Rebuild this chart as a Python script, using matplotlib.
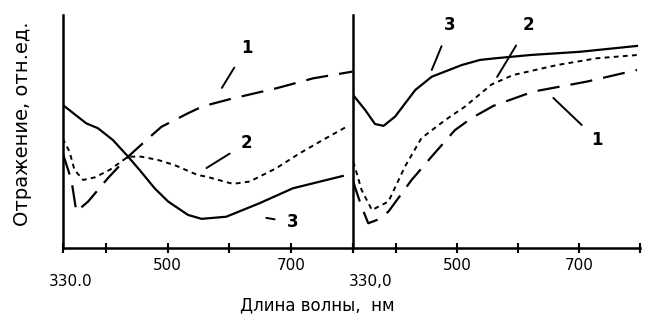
import matplotlib.pyplot as plt
import matplotlib.transforms as mtransforms

# длины волн (нм) и отражение (отн. ед.)
wl_left_1 = [330, 344, 352, 371, 403, 436, 466, 490, 533, 557, 606, 676, 736, 800]
r_left_1 = [40.6, 29.2, 15.6, 19.9, 29.9, 39.2, 46.4, 52, 57.8, 60.8, 64.2, 68.5, 72.8, 75.7]
wl_left_2 = [330, 341, 349, 363, 382, 406, 436, 457, 484, 511, 549, 563, 606, 633, 676, 714, 752, 790]
r_left_2 = [47, 41.3, 33.5, 29.2, 30.3, 33.5, 39.2, 39.2, 37.8, 35.6, 31.3, 30.6, 27.5, 28.5, 34.2, 40.6, 46.4, 52]
wl_left_3 = [330, 368, 387, 411, 436, 457, 479, 501, 533, 555, 595, 649, 703, 784]
r_left_3 = [61.4, 53.5, 51.4, 46.4, 39.2, 32.7, 25.6, 19.9, 14.2, 12.5, 13.4, 19.2, 25.6, 30.9]

wl_right_1 = [330, 333, 344, 355, 369, 388, 426, 461, 497, 524, 560, 625, 713, 795]
r_right_1 = [29, 26.3, 17.7, 10.6, 12, 15.6, 29.2, 39.9, 50.6, 55.7, 61, 67.1, 71.4, 76.4]
wl_right_2 = [330, 333, 344, 361, 388, 415, 442, 481, 513, 557, 592, 664, 729, 795]
r_right_2 = [37, 34.9, 24.9, 16.3, 19.9, 34.9, 47.1, 54.9, 60.6, 70.2, 74.2, 78.5, 81.4, 82.8]
wl_right_3 = [330, 350, 366, 380, 399, 432, 459, 508, 538, 563, 620, 702, 795]
r_right_3 = [65.7, 59.2, 53.2, 52.4, 56.4, 67.8, 73.5, 78.5, 80.7, 81.4, 82.8, 84.2, 86.7]

major_ticks = [500, 700]
major_labels = ['500', '700']
minor_ticks = [330, 400, 600, 800]
labels_left = ['330.0', '', '', '']
labels_right = ['330,0', '', '', '']

fig = plt.figure(figsize=(6.47, 3.25), dpi=100)
ax1 = fig.add_axes([0.097, 0.237, 0.448, 0.717])
ax2 = fig.add_axes([0.5456, 0.237, 0.4436, 0.717])

long_dash = (0, (10, 5))
short_dash = (0, (2.5, 2.2))

ax1.plot(wl_left_1, r_left_1, color='k', lw=1.6, ls=long_dash)
ax1.plot(wl_left_2, r_left_2, color='k', lw=1.4, ls=short_dash)
ax1.plot(wl_left_3, r_left_3, color='k', lw=1.6, solid_joinstyle='round')
ax2.plot(wl_right_1, r_right_1, color='k', lw=1.6, ls=long_dash)
ax2.plot(wl_right_2, r_right_2, color='k', lw=1.4, ls=short_dash)
ax2.plot(wl_right_3, r_right_3, color='k', lw=1.6, solid_joinstyle='round')

for ax, lab, dx in ((ax1, labels_left, 8), (ax2, labels_right, 18)):
    ax.set_xlim(330, 800)
    ax.set_ylim(0, 100)
    ax.spines['top'].set_visible(False)
    ax.spines['right'].set_visible(False)
    ax.spines['left'].set_linewidth(1.8)
    ax.spines['bottom'].set_linewidth(1.8)
    ax.set_yticks([])
    ax.set_xticks(major_ticks)
    ax.set_xticklabels(major_labels)
    ax.set_xticks(minor_ticks, minor=True)
    ax.set_xticklabels(lab, minor=True)
    ax.tick_params(axis='x', which='major', direction='inout', length=7, width=1.5,
                   labelsize=11, pad=4)
    ax.tick_params(axis='x', which='minor', direction='inout', length=7, width=1.5,
                   labelsize=11, pad=15)
    shift = mtransforms.ScaledTranslation(dx / 100, 0, fig.dpi_scale_trans)
    for t in ax.xaxis.get_minorticklabels():
        t.set_transform(t.get_transform() + shift)
    ax.set_facecolor('none')

# подписи кривых
notes_left = [('1', (588, 68.7), (628, 86)),
              ('2', (563, 34.3), (628, 45)),
              ('3', (660, 12.9), (703, 11))]
notes_right = [('3', (459, 76.4), (489, 95.5)),
               ('2', (566, 73.4), (617, 95.5)),
               ('1', (658, 64.4), (730, 46.4))]
for ax, notes in ((ax1, notes_left), (ax2, notes_right)):
    for txt, xy, xytext in notes:
        ax.annotate(txt, xy=xy, xytext=xytext, fontsize=12, fontweight='bold',
                    ha='center', va='center',
                    arrowprops=dict(arrowstyle='-', color='k', lw=1.4,
                                    shrinkA=7, shrinkB=0))

fig.text(0.035, 0.62, 'Отражение, отн.ед.', rotation=90, ha='center', va='center',
         fontsize=14)
fig.text(0.49, 0.06, 'Длина волны,  нм', ha='center', va='center', fontsize=12)

fig.savefig('out.png', dpi=100)
